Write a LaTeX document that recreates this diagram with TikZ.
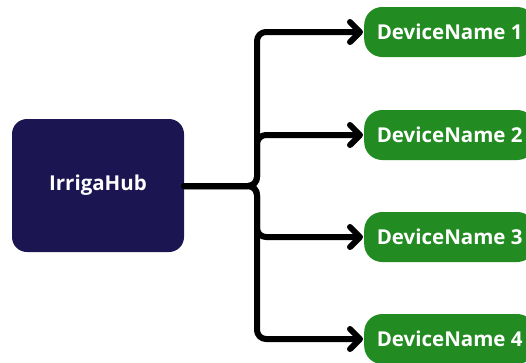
\documentclass[tikz,border=0pt]{standalone}
\usepackage{fontspec}
\setmainfont{Open Sans}
\usetikzlibrary{arrows.meta}
\definecolor{hubnavy}{HTML}{1B1551}
\definecolor{devgreen}{HTML}{228B22}
\tikzset{
  hubbox/.style={fill=hubnavy, rounded corners=15pt, minimum width=172pt, minimum height=133pt,
    text=white, font=\bfseries\fontsize{20.5}{22}\selectfont, inner sep=0pt},
  devbox/.style={fill=devgreen, rounded corners=18pt, minimum width=171pt, minimum height=50pt,
    text=white, font=\bfseries\fontsize{20.5}{22}\selectfont, inner sep=0pt, anchor=west},
  link/.style={line width=6pt, rounded corners=9pt, line cap=round, line join=round,
    -{Straight Barb[length=10pt, width=20pt, round]}}
}
\begin{document}
\begin{tikzpicture}[x=1pt, y=-1pt]
  \useasboundingbox (0,0) rectangle (526,362);
  \clip (0,0) rectangle (526,362);
  \node[hubbox] (hub) at (98,185.5) {IrrigaHub};
  \node[devbox] (d1) at (364,32) {DeviceName 1};
  \node[devbox] (d2) at (364,135) {DeviceName 2};
  \node[devbox] (d3) at (364,237) {DeviceName 3};
  \node[devbox] (d4) at (364,339) {DeviceName 4};
  \coordinate (fork) at (257,186);
  \foreach \d in {d1,d2,d3,d4}
    \draw[link] (hub.east |- fork) -- (fork) -- (fork |- \d.west) -- ([xshift=-1pt]\d.west);
\end{tikzpicture}
\end{document}
